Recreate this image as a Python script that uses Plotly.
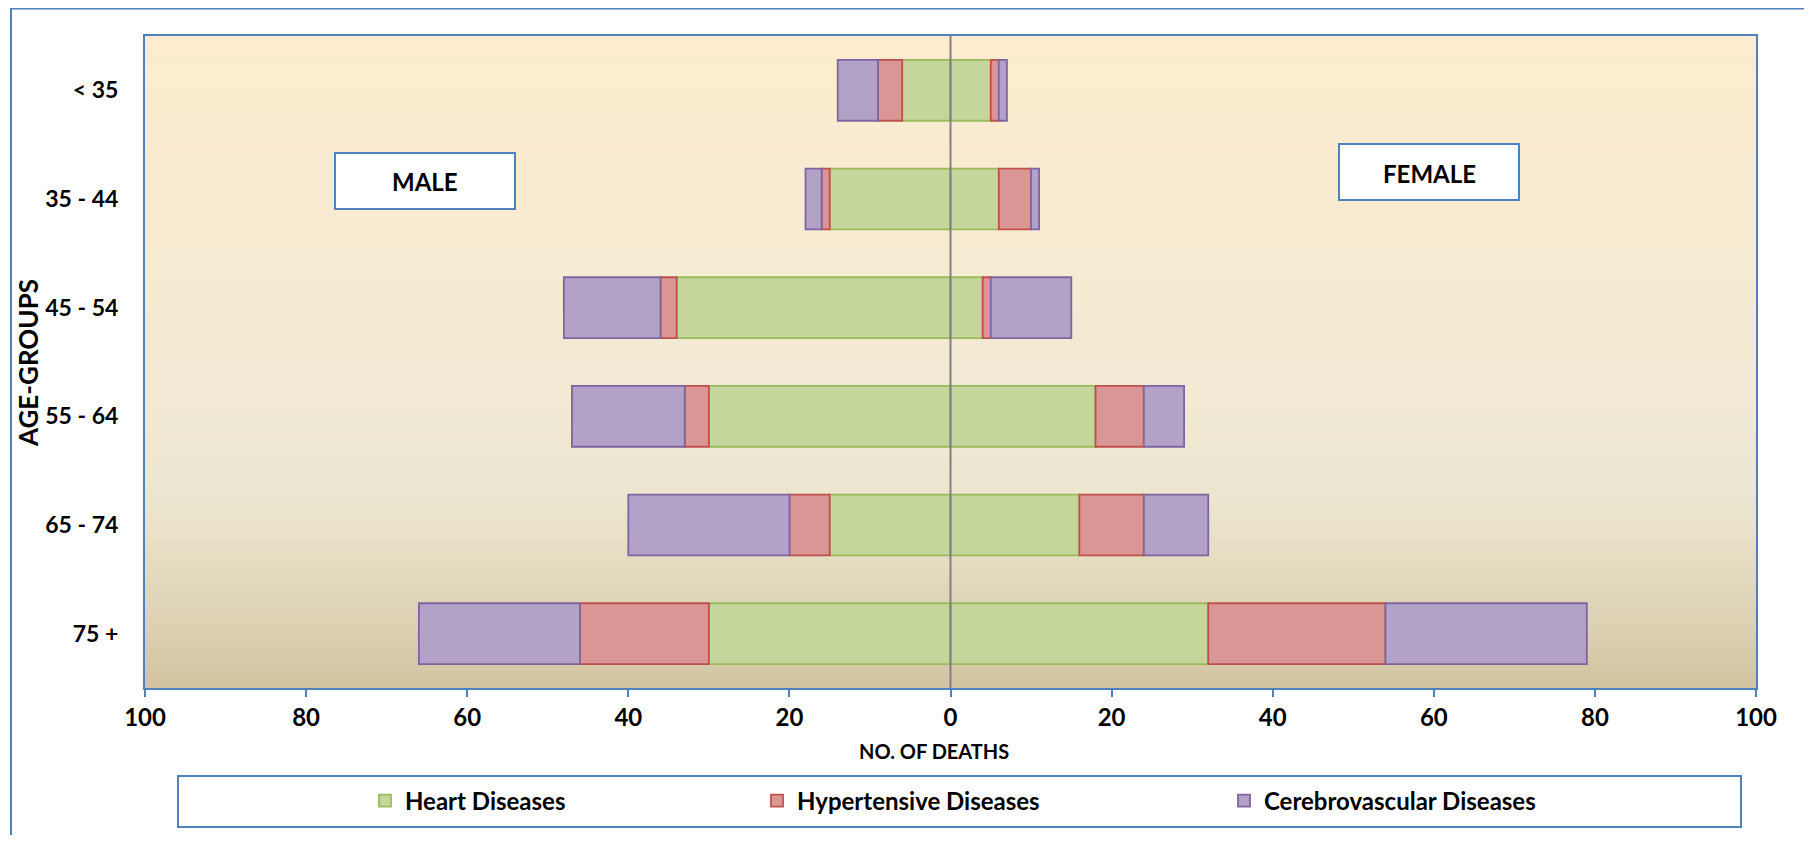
import plotly.graph_objects as go

# age groups, top to bottom
age_groups = ['< 35', '35 - 44', '45 - 54', '55 - 64', '65 - 74', '75 +']

male_heart = [6, 15, 34, 30, 15, 30]
male_hyper = [3, 1, 2, 3, 5, 16]
male_cereb = [5, 2, 12, 14, 20, 20]

female_heart = [5, 6, 4, 18, 16, 32]
female_hyper = [1, 4, 1, 6, 8, 22]
female_cereb = [1, 1, 10, 5, 8, 25]

x_ticks = [-100, -80, -60, -40, -20, 0, 20, 40, 60, 80, 100]
x_tick_text = ['100', '80', '60', '40', '20', '0', '20', '40', '60', '80', '100']

series_names = ['Heart Diseases', 'Hypertensive Diseases', 'Cerebrovascular Diseases']
fills = ['#C4D69B', '#DA9694', '#B2A2C7']
edges = ['#9BBB59', '#C0504D', '#8064A2']

# page body has an 8px margin, so lay out in window pixels and subtract it
OFF = 8
W, H = 1812 - 2 * OFF, 843 - 2 * OFF
PL, PR, PT, PB = 145, 1756, 36, 688   # plot area in window pixels
PW, PH = PR - PL, PB - PT
BLUE = '#4F81BD'


def px_x(p):
    return (p - PL) / PW


def px_y(p):
    return (PB - p) / PH


fig = go.Figure()

legends = ['legend', 'legend2', 'legend3']
male_vals = [male_heart, male_hyper, male_cereb]
female_vals = [female_heart, female_hyper, female_cereb]
for i, name in enumerate(series_names):
    fig.add_trace(go.Bar(
        y=age_groups, x=[-v for v in male_vals[i]], orientation='h',
        name=name, legendgroup=name, showlegend=False,
        marker=dict(color=fills[i], line=dict(color=edges[i], width=1.8)),
    ))
    fig.add_trace(go.Bar(
        y=age_groups, x=female_vals[i], orientation='h',
        name=name, legendgroup=name, showlegend=True, legend=legends[i],
        marker=dict(color=fills[i], line=dict(color=edges[i], width=1.8)),
    ))

# background gradient of the plot area, drawn as thin strips
stops = [(0.0, (253, 236, 207)), (0.55, (242, 234, 213)), (0.72, (236, 229, 206)),
         (0.86, (224, 214, 186)), (1.0, (210, 196, 160))]


def grad(t):
    for (a, ca), (b, cb) in zip(stops[:-1], stops[1:]):
        if a <= t <= b:
            f = (t - a) / (b - a)
            return 'rgb(%d,%d,%d)' % tuple(round(ca[k] + (cb[k] - ca[k]) * f) for k in range(3))
    return 'rgb(%d,%d,%d)' % stops[-1][1]


shapes = []
n = 80
for k in range(n):
    t = (k + 0.5) / n
    shapes.append(dict(type='rect', xref='paper', yref='paper', x0=0, x1=1,
                       y0=1 - (k + 1) / n - 0.002, y1=1 - k / n,
                       fillcolor=grad(t), line=dict(width=0), layer='below'))

# zero line over the bars
shapes.append(dict(type='line', xref='x', yref='paper', x0=0, x1=0, y0=0, y1=1,
                   line=dict(color='#808080', width=2), layer='above'))
# outer chart border
shapes.append(dict(type='rect', xref='paper', yref='paper',
                   x0=px_x(11), x1=px_x(1840), y0=px_y(880), y1=px_y(8.5),
                   line=dict(color=BLUE, width=2), layer='above'))
# legend frame
shapes.append(dict(type='rect', xref='paper', yref='paper',
                   x0=px_x(178), x1=px_x(1741), y0=px_y(827), y1=px_y(776),
                   line=dict(color=BLUE, width=2), fillcolor='white', layer='above'))
# MALE / FEMALE boxes
for x0, y0 in [(335, 153), (1339, 144)]:
    shapes.append(dict(type='rect', xref='paper', yref='paper',
                       x0=px_x(x0), x1=px_x(x0 + 180), y0=px_y(y0 + 56), y1=px_y(y0),
                       line=dict(color=BLUE, width=2), fillcolor='white', layer='above'))


def label(text, x, y, size, angle=0):
    return dict(text=text, x=px_x(x), y=px_y(y), xref='paper', yref='paper',
                xanchor='center', yanchor='middle', showarrow=False,
                textangle=angle, font=dict(size=size))


annotations = [
    label('MALE', 425, 181, 24),
    label('FEMALE', 1429, 173, 24),
    label('NO. OF DEATHS', 934, 751, 20),
    label('AGE-GROUPS', 28, 363, 26, -90),
]

leg_style = dict(orientation='h', xanchor='left', yanchor='middle', y=px_y(801),
                 bgcolor='rgba(0,0,0,0)', font=dict(size=24), itemclick=False)

fig.update_layout(
    width=W, height=H,
    margin=dict(l=PL - OFF, r=W + OFF - PR, t=PT - OFF, b=H + OFF - PB, autoexpand=False),
    barmode='relative', bargap=0.44,
    paper_bgcolor='white', plot_bgcolor='rgb(242,234,213)',
    font=dict(family='Lato', color='black', weight='bold'),
    shapes=shapes, annotations=annotations,
    legend=dict(x=px_x(365), **leg_style),
    legend2=dict(x=px_x(757), **leg_style),
    legend3=dict(x=px_x(1224), **leg_style),
    xaxis=dict(range=[-100, 100], tickvals=x_ticks, ticktext=x_tick_text,
               showgrid=False, zeroline=False, showline=True, mirror=True,
               linecolor=BLUE, linewidth=2, ticks='outside', ticklen=7,
               tickcolor=BLUE, tickwidth=2, tickfont=dict(size=24),
               ticklabelstandoff=0),
    yaxis=dict(categoryorder='array', categoryarray=age_groups, autorange='reversed',
               showgrid=False, zeroline=False, showline=True, mirror=True,
               linecolor=BLUE, linewidth=2, ticks='', tickfont=dict(size=23),
               ticklabelstandoff=20),
)

fig.write_html('out.html')
